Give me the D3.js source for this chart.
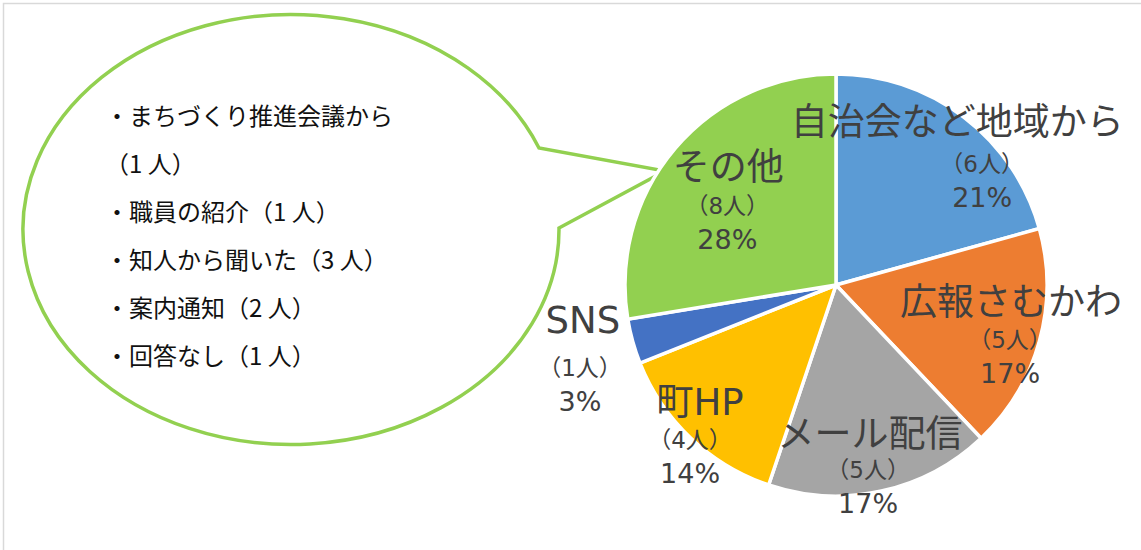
<!DOCTYPE html>
<html>
<head>
<meta charset="utf-8">
<script src="https://cdn.jsdelivr.net/npm/d3@7"></script>
<style>
  body { margin: 0; background: #fff; }
  text { font-family: "Noto Sans CJK JP", "Noto Sans", sans-serif; }
  .name { font-family: "DejaVu Sans", "Noto Sans CJK JP", sans-serif; font-size: 37px; fill: #404040; }
  .count { font-family: "DejaVu Sans", "Noto Sans CJK JP", sans-serif; font-size: 23px; fill: #404040; }
  .pct { font-family: "DejaVu Sans", "Noto Sans CJK JP", sans-serif; font-size: 27px; fill: #404040; }
  .note { font-size: 24px; fill: #111; }
</style>
</head>
<body>
<div id="wrapper"></div>
<script>
// 1. Data
const categories = ["自治会など地域から", "広報さむかわ", "メール配信", "町HP", "SNS", "その他"]
const counts = [6, 5, 5, 4, 1, 8]
const otherLines = [
    "・まちづくり推進会議から",
    "（1 人）",
    "・職員の紹介（1 人）",
    "・知人から聞いた（3 人）",
    "・案内通知（2 人）",
    "・回答なし（1 人）",
]

const colors = ["#5B9BD5", "#ED7D31", "#A5A5A5", "#FFC000", "#4472C4", "#92D050"]
// label nudges from each slice's centroid: [dx, dy] of the count line, name dx, name dy
const labelNudge = [
    [67, -9, -25, -37],
    [48, 28, 1, -33],
    [4, 65, 2, -31],
    [-56, 68, 10, -33],
    [-130, 56, 3, -43],
    [-9, 14, 1, -34],
]

const total = d3.sum(counts)
const dataset = categories.map((c, i) => ({ name: c, count: counts[i] }))

// 2. Dimensions
const dimensions = { width: 1141, height: 550 }
const pieCenter = { x: 836, y: 285 }
const radius = 211

// 3. Canvas
const svg = d3.select("#wrapper")
    .append("svg")
    .attr("width", dimensions.width)
    .attr("height", dimensions.height)

svg.append("rect")
    .attr("x", 3.5)
    .attr("y", 3.5)
    .attr("width", dimensions.width)
    .attr("height", dimensions.height)
    .attr("fill", "#fff")
    .attr("stroke", "#d9d9d9")
    .attr("stroke-width", 1.5)

// speech bubble
const bubble = { cx: 290, cy: 230, rx: 268, ry: 215 }
const tailTop = [539, 148], tailBottom = [559, 228], tailTip = [665, 171]
svg.append("path")
    .attr("d", `M${tailTop[0]},${tailTop[1]} A${bubble.rx},${bubble.ry} 0 1 0 ${tailBottom[0]},${tailBottom[1]} L${tailTip[0]},${tailTip[1]} Z`)
    .attr("fill", "#fff")
    .attr("stroke", "#92D050")
    .attr("stroke-width", 3.5)
    .attr("stroke-linejoin", "miter")

const lineY = d3.scalePoint()
    .domain(d3.range(otherLines.length))
    .range([125, 365])

svg.append("g").selectAll("text")
    .data(otherLines)
    .join("text")
    .attr("class", "note")
    .attr("x", 105)
    .attr("y", (d, i) => lineY(i))
    .text(d => d)

// 4. Pie
const pie = d3.pie()
    .sort(null)
    .value(d => d.count)

const arc = d3.arc()
    .innerRadius(0)
    .outerRadius(radius)

const labelArc = d3.arc()
    .innerRadius(radius * 0.62)
    .outerRadius(radius * 0.62)

const bounds = svg.append("g")
    .attr("transform", `translate(${pieCenter.x}, ${pieCenter.y})`)

const arcs = pie(dataset)

bounds.selectAll("path.slice")
    .data(arcs)
    .join("path")
    .attr("class", "slice")
    .attr("d", arc)
    .attr("fill", (d, i) => colors[i])
    .attr("stroke", "#fff")
    .attr("stroke-width", 3.5)

// 5. Labels
const labels = bounds.selectAll("g.label")
    .data(arcs)
    .join("g")
    .attr("class", "label")
    .attr("transform", (d, i) => {
        const [x, y] = labelArc.centroid(d)
        return `translate(${x + labelNudge[i][0]}, ${y + labelNudge[i][1]})`
    })
    .attr("text-anchor", "middle")

labels.append("text")
    .attr("class", "name")
    .attr("x", (d, i) => labelNudge[i][2])
    .attr("y", (d, i) => labelNudge[i][3])
    .text(d => d.data.name)

labels.append("text")
    .attr("class", "count")
    .attr("y", 0)
    .text(d => `（${d.data.count}人）`)

labels.append("text")
    .attr("class", "pct")
    .attr("y", 35)
    .text(d => `${Math.round(d.data.count / total * 100)}%`)
</script>
</body>
</html>
